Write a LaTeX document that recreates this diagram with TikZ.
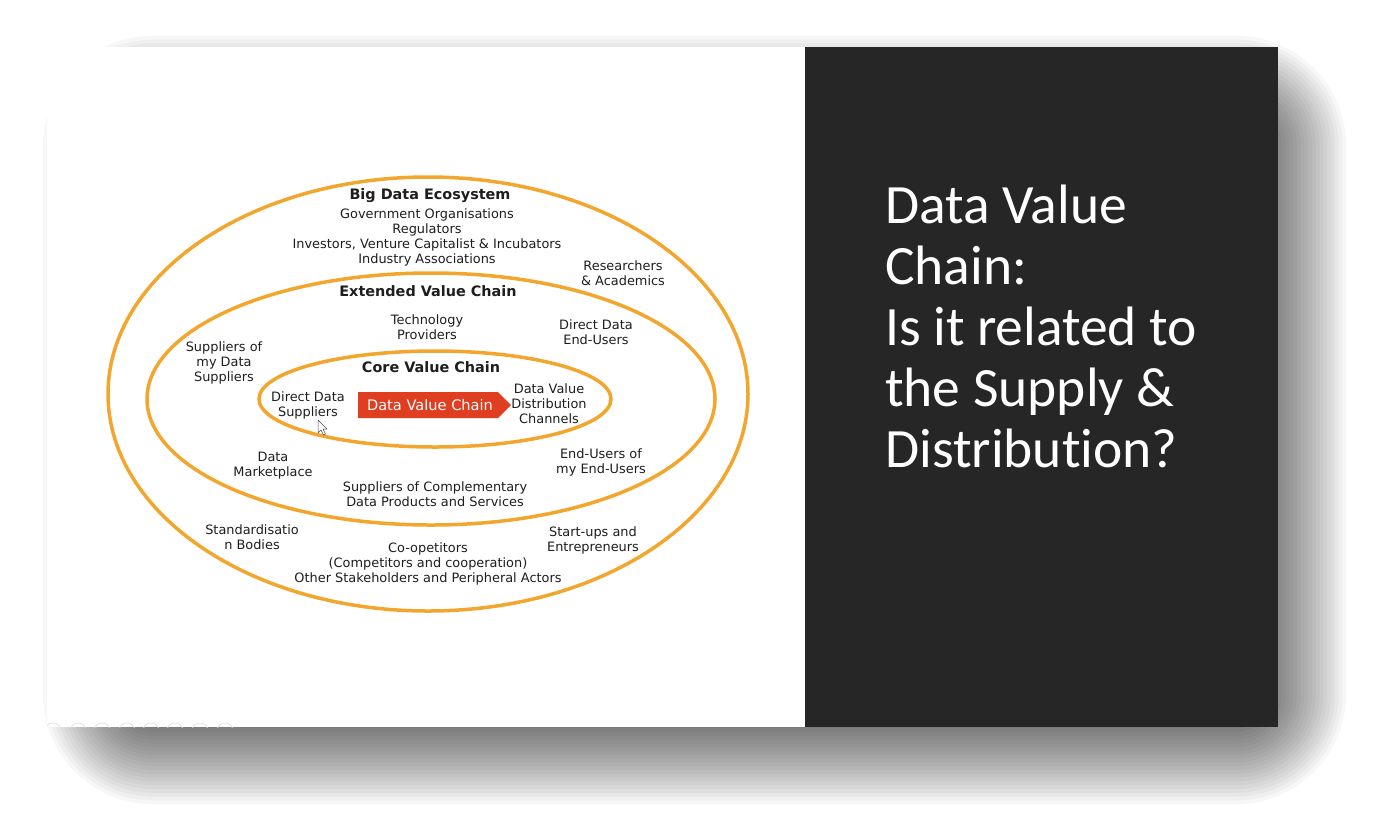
\documentclass[tikz,border=0pt]{standalone}
\usepackage{fontspec}
\setmainfont{DejaVu Sans}
\newfontfamily\titlefont{Carlito}[Ligatures=NoCommon]
\usetikzlibrary{shapes.geometric}
\definecolor{ring}{RGB}{242,166,45}
\definecolor{chainred}{RGB}{224,62,32}
\definecolor{panel}{RGB}{38,38,38}
\definecolor{txt}{RGB}{30,30,30}
\begin{document}
\begin{tikzpicture}[x=1pt,y=-1pt,
  ringstyle/.style={draw=ring, line width=3.5pt, ellipse, inner sep=0pt},
  lbl/.style={font=\fontsize{12.9}{15}\selectfont, align=center, text=txt, inner sep=0pt},
  ttl/.style={font=\bfseries\fontsize{14.4}{15}\selectfont, text=txt, inner sep=0pt},
  chainlbl/.style={font=\fontsize{14.6}{16}\selectfont, text=white, inner sep=0pt},
  headline/.style={font=\titlefont\fontsize{55.5}{61}\selectfont, text=white, align=left, inner sep=0pt},
]
\useasboundingbox (0,0) rectangle (1373,823);
\fill[white] (0,0) rectangle (1373,823);
% drop shadow
\foreach \i in {0,...,29}{
  \pgfmathsetmacro\e{\i*3.8}
  \fill[black,opacity=0.03,rounded corners=\e pt] (153-\e,146-\e) rectangle (1236+\e,694+\e);
}
% slide
\fill[white] (47,47) rectangle (805,727);
\fill[panel] (805,47) rectangle (1278,727);
% faint navigation circles
\begin{scope}
  \clip (47,47) rectangle (805,727);
  \foreach \cx in {53,78,102,127,151,175,200,225}{
    \draw[black!12, line width=0.7pt] (\cx,731) circle (8);
  }
\end{scope}
% rings
\node[ringstyle, minimum width=640pt, minimum height=434pt] (eco) at (428,394) {};
\node[ringstyle, minimum width=568pt, minimum height=252pt] (ext) at (431,399) {};
\node[ringstyle, minimum width=352pt, minimum height=96pt] (core) at (435,399) {};
% red chain arrow
\fill[chainred] (358,392) -- (498,392) -- (511,405) -- (498,418) -- (358,418) -- cycle;
\node[chainlbl] (dvc) at (430,405) {Data Value Chain};
% texts
\node[ttl] (t1) at (430,196) {Big Data Ecosystem};
\node[lbl] (gov) at (427,237) {Government Organisations\\Regulators\\Investors, Venture Capitalist \& Incubators\\Industry Associations};
\node[lbl] (res) at (623,273) {Researchers\\\& Academics};
\node[ttl] (t2) at (428,291) {Extended Value Chain};
\node[lbl] (tech) at (427,327) {Technology\\Providers};
\node[lbl] (ddeu) at (596,332) {Direct Data\\End-Users};
\node[lbl] (somds) at (224,363) {Suppliers of\\my Data\\Suppliers};
\node[ttl] (t3) at (431,367) {Core Value Chain};
\node[lbl] (dds) at (308,405) {Direct Data\\Suppliers};
\node[lbl] (dvdc) at (549,404) {Data Value\\Distribution\\Channels};
\node[lbl] (dm) at (273,466) {Data\\Marketplace};
\node[lbl] (eueu) at (601,462) {End-Users of\\my End-Users};
\node[lbl] (socd) at (435,494) {Suppliers of Complementary\\Data Products and Services};
\node[lbl] (std) at (252,537) {Standardisatio\\n Bodies};
\node[lbl] (sue) at (593,540) {Start-ups and\\Entrepreneurs};
\node[lbl] (coop) at (428,564) {Co-opetitors\\(Competitors and cooperation)\\Other Stakeholders and Peripheral Actors};
% cursor
\draw[black!70, fill=white, line width=0.5pt, line join=round] (318,420) -- (318,433) -- (321,430) -- (323.5,435) -- (325.5,434) -- (323,429) -- (327,429) -- cycle;
% headline
\node[headline, anchor=base west] (head) at (885,467) {Data Value\\Chain:\\Is it related to\\the Supply \&\\Distribution?};
\end{tikzpicture}
\end{document}
